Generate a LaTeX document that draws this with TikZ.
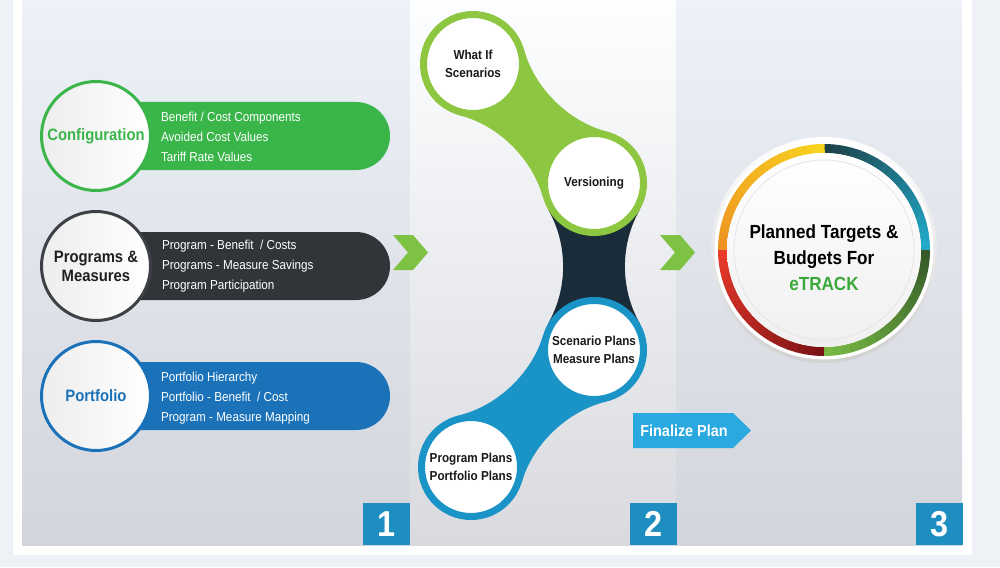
\documentclass[tikz,border=0pt]{standalone}
\usepackage{fontspec}
\setmainfont{Liberation Sans}[FakeStretch=0.9]

\definecolor{pagebg}{HTML}{EEF1F6}
\definecolor{colAtop}{HTML}{EDF1F8}
\definecolor{colAbot}{HTML}{D2D5DB}
\definecolor{colBtop}{HTML}{FDFEFF}
\definecolor{colBbot}{HTML}{D8DADF}
\definecolor{cfggreen}{HTML}{3AB54A}
\definecolor{progdark}{HTML}{313439}
\definecolor{progring}{HTML}{3D4045}
\definecolor{portblue}{HTML}{1B72B8}
\definecolor{ringgreen}{HTML}{8DC641}
\definecolor{ringblue}{HTML}{1A93C6}
\definecolor{navy}{HTML}{1A2C3A}
\definecolor{chevgreen}{HTML}{7DC242}
\definecolor{numblue}{HTML}{1E8EC0}
\definecolor{tagblue}{HTML}{29A9E0}
\definecolor{etgreen}{HTML}{3BA93A}
\definecolor{rtealA}{HTML}{1D4247}
\definecolor{rtealB}{HTML}{22A8CA}
\definecolor{rgrnA}{HTML}{355A28}
\definecolor{rgrnB}{HTML}{77B944}
\definecolor{rredA}{HTML}{7C1315}
\definecolor{rredB}{HTML}{E8392A}
\definecolor{rorgA}{HTML}{EE9222}
\definecolor{rorgB}{HTML}{F7D21E}

\begin{document}
\begin{tikzpicture}[x=1pt, y=-1pt,
    every node/.style={inner sep=0pt, outer sep=0pt},
    lcirc/.style={circle, minimum size=109pt, line width=3pt, left color=black!7,
                  right color=white, align=center,
                  font=\fontsize{16.5}{19}\selectfont\bfseries},
    pilltxt/.style={anchor=west, text=white, align=left,
                    font=\fontsize{13}{20}\selectfont},
    ring/.style={circle, draw, line width=7pt, minimum size=99pt, fill=white,
                 align=center, text=black!90,
                 font=\fontsize{13}{17.5}\selectfont\bfseries},
    numbox/.style={fill=numblue, text=white, minimum width=47pt, minimum height=42pt,
                   font=\fontsize{36}{36}\selectfont\bfseries},
    tagtxt/.style={text=white, font=\fontsize{16}{18}\selectfont\bfseries},
    goaltxt/.style={align=center, text=black,
                    font=\fontsize{19}{26}\selectfont\bfseries},
  ]
  \useasboundingbox (0,0) rectangle (1000,567);
  % backdrop and the three columns
  \fill[pagebg] (0,0) rectangle (1000,567);
  \fill[white] (13,0) rectangle (972,555);
  \shade[top color=colAtop, bottom color=colAbot] (22,0) rectangle (410,545);
  \shade[top color=colBtop, bottom color=colBbot] (410,0) rectangle (676,545);
  \shade[top color=colAtop, bottom color=colAbot] (676,0) rectangle (962,545);

  % column 1: pills behind the circles
  \fill[cfggreen] (120,102) -- (356,102) arc[start angle=-90, end angle=90, radius=34] -- (120,170) -- cycle;
  \fill[progdark] (120,232) -- (356,232) arc[start angle=-90, end angle=90, radius=34] -- (120,300) -- cycle;
  \fill[portblue] (120,362) -- (356,362) arc[start angle=-90, end angle=90, radius=34] -- (120,430) -- cycle;
  \node[lcirc, draw=cfggreen, text=cfggreen] (cfg) at (96,136) {Configuration};
  \node[lcirc, draw=progring, text=black!88] (prog) at (96,266) {Programs \&\\Measures};
  \node[lcirc, draw=portblue, text=portblue] (port) at (96,396) {Portfolio};
  \node[pilltxt] (cfgtxt) at (161,137) {Benefit / Cost Components\\Avoided Cost Values\\Tariff Rate Values};
  \node[pilltxt] (progtxt) at (162,266) {Program - Benefit~ / Costs\\Programs - Measure Savings\\Program Participation};
  \node[pilltxt] (porttxt) at (161,398) {Portfolio Hierarchy\\Portfolio - Benefit~ / Cost\\Program - Measure Mapping};

  % chevrons between the columns
  \foreach \dx in {0,267}
    \fill[chevgreen, xshift=\dx] (393,235) -- (413,235) -- (428,252.5) -- (413,270)
      -- (393,270) -- (408,252.5) -- cycle;

  % column 2: bands joining the circles
  \fill[navy] (639.9,209.5) .. controls (619.9,244.1) and (619.9,288.9) .. (639.9,323.5)
    -- (548.1,323.5) .. controls (568.1,288.9) and (568.1,244.1) .. (548.1,209.5) -- cycle;
  \fill[ringgreen] (524.1,49.8) .. controls (534.8,88.4) and (568.6,121.7) .. (607.3,131.7)
    -- (594,183) -- (542.9,197.2) .. controls (532.2,158.6) and (498.4,125.3) .. (459.7,115.3)
    -- (473,64) -- cycle;
  \fill[ringblue] (543.2,335.0) .. controls (531.9,373.4) and (497.4,406.1) .. (458.5,415.5)
    -- (471,467) -- (521.8,482.0) .. controls (533.1,443.6) and (567.6,410.9) .. (606.5,401.5)
    -- (594,350) -- cycle;
  \node[ring, draw=ringgreen] (whatif) at (473,64) {What If\\Scenarios};
  \node[ring, draw=ringgreen] (vers) at (594,183) {Versioning};
  \node[ring, draw=ringblue] (scen) at (594,350) {Scenario Plans\\Measure Plans};
  \node[ring, draw=ringblue] (pplan) at (471,467) {Program Plans\\Portfolio Plans};

  % finalize tag
  \fill[tagblue] (633,413) -- (733,413) -- (751,430.5) -- (733,448) -- (633,448) -- cycle;
  \node[tagtxt] (fin) at (684,430.5) {Finalize Plan};

  % column 3: the target dial
  \coordinate (goalc) at (824,250);
  \shade[top color=white, bottom color=black!18] (goalc) circle[radius=113];
  \fill[white] (goalc) circle[radius=109.5];
  \foreach \a/\ca/\cb in {-90/rtealA/rtealB, 0/rgrnA/rgrnB, 90/rredA/rredB, 180/rorgA/rorgB}
    \foreach \i in {0,...,17} {
      \pgfmathtruncatemacro{\p}{100-\i*100/17}
      \colorlet{segc}{\ca!\p!\cb}
      \draw[segc, line width=9pt] (goalc) ++(\a+\i*5:101.5)
        arc[start angle=\a+\i*5, end angle=\a+\i*5+5.4, radius=101.5];
    }
  \shade[top color=white, bottom color=black!6] (goalc) circle[radius=97];
  \draw[black!10, line width=0.8pt] (goalc) circle[radius=90];
  \node[goaltxt] (goal) at (824,258) {Planned Targets \&\\Budgets For\\\textcolor{etgreen}{eTRACK}};

  % step numbers
  \node[numbox] (num1) at (386.5,524) {1};
  \node[numbox] (num2) at (653,524) {2};
  \node[numbox] (num3) at (939,524) {3};
\end{tikzpicture}
\end{document}
